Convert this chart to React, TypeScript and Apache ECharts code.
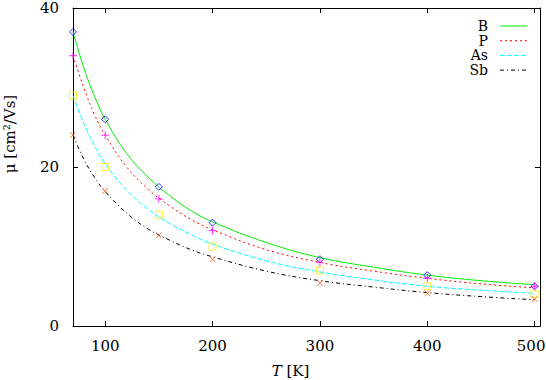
import React, { useEffect, useRef } from "react";
import * as echarts from "echarts";

// Fitted curve sample temperatures (K) and values
const curveT = [70, 80, 90, 100, 120, 140, 160, 180, 200, 250, 300, 350, 400, 450, 500];
const curveB = [37.0, 32.5, 28.9, 26.0, 21.7, 18.7, 16.4, 14.5, 13.1, 10.5, 8.6, 7.4, 6.4, 5.7, 5.2];
const curveP = [34.0, 30.0, 26.6, 24.0, 20.0, 17.2, 15.1, 13.4, 12.1, 9.6, 8.0, 6.9, 6.0, 5.3, 4.8];
const curveAs = [29.0, 25.5, 22.7, 20.4, 17.1, 14.7, 12.9, 11.5, 10.3, 8.2, 6.8, 5.8, 5.0, 4.5, 4.1];
const curveSb = [24.0, 21.0, 18.7, 16.9, 14.2, 12.2, 10.8, 9.6, 8.7, 6.9, 5.7, 4.9, 4.2, 3.7, 3.3];

// Measured points
const dataT = [70, 100, 150, 200, 300, 400, 500];
const dataB = [37.0, 26.0, 17.5, 13.0, 8.4, 6.4, 5.0];
const dataP = [34.0, 24.0, 16.0, 12.0, 8.0, 6.0, 5.0];
const dataAs = [29.0, 20.0, 14.0, 10.0, 7.0, 5.0, 4.0];
const dataSb = [24.0, 17.0, 11.4, 8.4, 5.4, 4.1, 3.4];

const xTicks = [100, 200, 300, 400, 500];
const yTicks = [0, 20, 40];

const legendNames = ["B", "P", "As", "Sb"];
const legendColors = ["#00ee00", "#ff0000", "#00ffff", "#000000"];
const legendDashes: any[] = [null, [2, 3], [5, 2], [4, 3, 1, 3]];

const FONT = "DejaVu Serif";

const zip = (xs: number[], ys: number[]) => xs.map((x, i) => [x, ys[i]]);

export default function App() {
  const ref = useRef<HTMLDivElement>(null);
  useEffect(() => {
    if (!ref.current) return;
    const chart = echarts.init(ref.current, null, { renderer: "svg" });

    const xBase = {
      type: "value" as const,
      min: 70,
      max: 505,
      splitLine: { show: false },
      axisLine: { show: true, onZero: false, lineStyle: { color: "#000", width: 1 } },
      axisTick: { show: true, inside: true, length: 5, customValues: xTicks, lineStyle: { color: "#000" } },
    };
    const yBase = {
      type: "value" as const,
      min: 0,
      max: 40,
      splitLine: { show: false },
      axisLine: { show: true, onZero: false, lineStyle: { color: "#000", width: 1 } },
      axisTick: { show: true, inside: true, length: 5, customValues: yTicks, lineStyle: { color: "#000" } },
    };

    const curve = (i: number, ys: number[]) => ({
      name: legendNames[i],
      type: "line",
      data: zip(curveT, ys),
      smooth: 0.4,
      symbol: "none",
      lineStyle: { color: legendColors[i], width: 1, type: legendDashes[i] || "solid" },
      itemStyle: { color: legendColors[i] },
      z: 2,
    });
    const pts = (name: string, ys: number[], symbol: string, size: number, color: string) => ({
      name,
      type: "scatter",
      data: zip(dataT, ys),
      symbol,
      symbolSize: size,
      itemStyle: { color: "rgba(0,0,0,0)", borderColor: color, borderWidth: 1 },
      z: 3,
    });

    const legendGraphic: any[] = [];
    legendNames.forEach((n, i) => {
      const y = 26 + i * 14.7;
      legendGraphic.push({
        type: "text",
        x: 488,
        y,
        style: { text: n, fill: "#000", font: `14px '${FONT}'`, textAlign: "right", textVerticalAlign: "middle" },
      });
      legendGraphic.push({
        type: "line",
        shape: { x1: 500, y1: y, x2: 527, y2: y },
        style: { stroke: legendColors[i], lineWidth: 1, lineDash: legendDashes[i] || undefined },
      });
    });

    chart.setOption({
      animation: false,
      backgroundColor: "#fff",
      grid: { left: 73, right: 6, top: 8, bottom: 54, outerBoundsMode: "none", containLabel: false },
      xAxis: [
        {
          ...xBase,
          position: "bottom",
          name: "{i|T} [K]",
          nameLocation: "middle",
          nameGap: 37,
          nameTextStyle: {
            fontFamily: FONT,
            fontSize: 15,
            color: "#000",
            padding: [0, 32, 0, 0],
            rich: { i: { fontFamily: FONT, fontSize: 15, fontStyle: "italic", color: "#000" } },
          },
          axisLabel: {
            show: true,
            customValues: xTicks,
            margin: 12,
            fontFamily: FONT,
            fontSize: 15,
            color: "#000",
            formatter: (v: number) => (v === 500 ? `{e|${v}}` : `${v}`),
            rich: { e: { fontFamily: FONT, fontSize: 15, color: "#000", padding: [0, 7, 0, 0] } },
          },
        },
        { ...xBase, position: "top", axisLabel: { show: false } },
      ],
      yAxis: [
        {
          ...yBase,
          position: "left",
          name: "μ [cm²/Vs]",
          nameLocation: "middle",
          nameGap: 56,
          nameRotate: 90,
          nameTextStyle: { fontFamily: FONT, fontSize: 15, color: "#000", padding: [0, 0, 0, 66] },
          axisLabel: { show: true, customValues: yTicks, margin: 14, fontFamily: FONT, fontSize: 15, color: "#000" },
        },
        { ...yBase, position: "right", axisLabel: { show: false } },
      ],
      graphic: legendGraphic,
      series: [
        curve(0, curveB),
        curve(1, curveP),
        curve(2, curveAs),
        curve(3, curveSb),
        pts("B data", dataB, "diamond", 7, "#0000ff"),
        pts("P data", dataP, "path://M0,5L10,5M5,0L5,10", 8, "#ff00ff"),
        pts("As data", dataAs, "rect", 7, "#ffee00"),
        pts("Sb data", dataSb, "path://M0,0L10,10M0,10L10,0", 6, "#ff5a1a"),
      ],
    });
    return () => chart.dispose();
  }, []);
  return <div ref={ref} style={{ width: 546, height: 380, position: "absolute", left: 0, top: 0, background: "#fff" }} />;
}
